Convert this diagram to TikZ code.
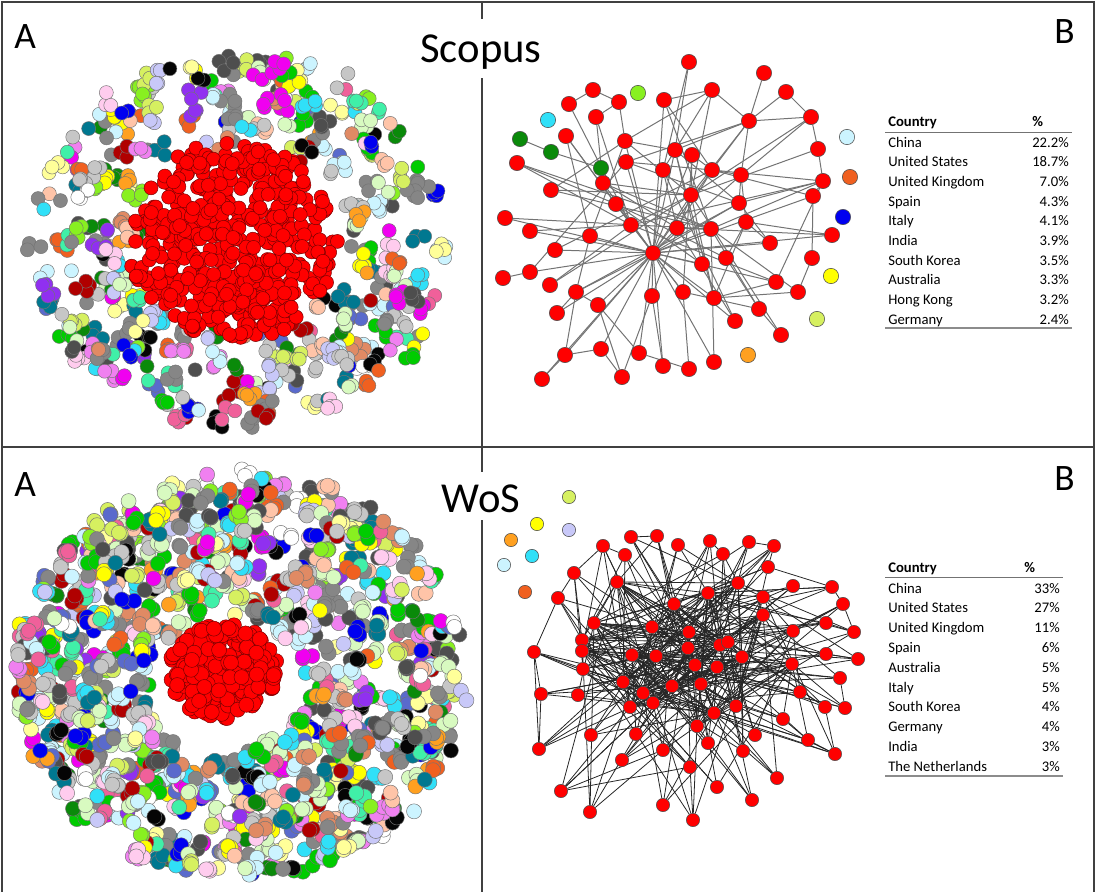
\documentclass[tikz,border=0pt]{standalone}
\usepackage{fontspec}
\setmainfont{Carlito}
\usetikzlibrary{backgrounds}

\definecolor{cGreen}{HTML}{00CC00}
\definecolor{cLime}{HTML}{88F020}
\definecolor{cDkGreen}{HTML}{0A8A0A}
\definecolor{cYellow}{HTML}{FFFF00}
\definecolor{cPaleYel}{HTML}{FFFF99}
\definecolor{cYelGreen}{HTML}{D6F060}
\definecolor{cBlue}{HTML}{0000F0}
\definecolor{cSlate}{HTML}{5A6ACC}
\definecolor{cBlack}{HTML}{050505}
\definecolor{cDkGray}{HTML}{4E4E4E}
\definecolor{cGray}{HTML}{868686}
\definecolor{cLtGray}{HTML}{C6C6C6}
\definecolor{cWhite}{HTML}{FFFFFF}
\definecolor{cPink}{HTML}{F0609A}
\definecolor{cMagenta}{HTML}{F000F0}
\definecolor{cOrchid}{HTML}{F080F0}
\definecolor{cPurple}{HTML}{9030F0}
\definecolor{cCyan}{HTML}{30E0F8}
\definecolor{cLtCyan}{HTML}{CCF4FF}
\definecolor{cTeal}{HTML}{007890}
\definecolor{cOrange}{HTML}{FFA020}
\definecolor{cOrRed}{HTML}{F06020}
\definecolor{cPeach}{HTML}{FFC4A8}
\definecolor{cSalmon}{HTML}{E08A64}
\definecolor{cMint}{HTML}{40F0A8}
\definecolor{cPaleGreen}{HTML}{D8FAC0}
\definecolor{cLavender}{HTML}{C8C8F8}
\definecolor{cDkRed}{HTML}{B00000}
\definecolor{cRose}{HTML}{FFCCEE}

\tikzset{
  frame/.style={draw=black!75, line width=1.3pt},
  lbl/.style={font=\fontsize{28}{32}\selectfont, inner sep=0pt},
  ttl/.style={font=\fontsize{32}{38}\selectfont, fill=white, inner xsep=2pt, inner ysep=3pt},
  blob/.style={draw=black!55, line width=0.35pt},
  redblob/.style={draw=red!45!black, fill=red, line width=0.35pt},
  snode/.style={circle, draw=black!70, line width=0.4pt, minimum size=11.5pt, inner sep=0pt},
  wnode/.style={circle, draw=black!70, line width=0.4pt, minimum size=10pt, inner sep=0pt},
  sedge/.style={draw=black!55, line width=0.75pt},
  wedge/.style={draw=black!85, line width=0.6pt},
  cell/.style={font=\fontsize{11}{13}\selectfont, inner sep=0pt},
  head/.style={font=\fontsize{11}{13}\selectfont\bfseries, inner sep=0pt},
  rulethin/.style={draw=black!55, line width=0.6pt},
  rulethick/.style={draw=black!45, line width=1.3pt},
}

\pgfmathdeclarerandomlist{dotcol}{{cGreen}{cLime}{cDkGreen}{cYellow}{cPaleYel}{cYelGreen}{cBlue}{cSlate}{cBlack}{cDkGray}{cDkGray}{cGray}{cGray}{cGray}{cLtGray}{cLtGray}{cWhite}{cPink}{cMagenta}{cOrchid}{cPurple}{cCyan}{cLtCyan}{cLtCyan}{cTeal}{cOrange}{cOrRed}{cPeach}{cSalmon}{cMint}{cPaleGreen}{cPaleGreen}{cLavender}{cDkRed}{cRose}}
\pgfmathdeclarerandomlist{wosHub}{{12}{13}{14}{15}{19}{21}{22}{23}{24}{25}{28}{29}{30}{31}{33}{34}{35}{36}{39}{40}{41}{42}{44}{45}{46}{47}{51}{52}{53}{54}{58}}

\begin{document}
\begin{tikzpicture}[x=0.75pt, y=-0.75pt]
\useasboundingbox (0,0) rectangle (1096,892);
\pgfmathsetseed{2718}

% panel frame
\draw[frame] (2,892) -- (2,2) -- (1094,2) -- (1094,892);
\draw[frame] (2,447) -- (1094,447);
\draw[frame] (482,2) -- (482,892);

% Scopus, A: communities round the main one
\foreach \g in {1,...,330}{
  \pgfmathsetmacro{\ang}{360*rnd}
  \pgfmathsetmacro{\rr}{sqrt(0.25+0.75*rnd)}
  \pgfmathsetmacro{\cx}{241+210*\rr*cos(\ang)}
  \pgfmathsetmacro{\cy}{238+186*\rr*sin(\ang)}
  \pgfmathrandomitem{\dc}{dotcol}
  \pgfmathtruncatemacro{\nm}{1+3.99*rnd}
  \foreach \k in {1,...,\nm}
    \draw[blob, fill=\dc] ({\cx+8*rand},{\cy+8*rand}) circle[radius=7];
}
\foreach \k in {1,...,520}{
  \pgfmathsetmacro{\ang}{360*rnd}
  \pgfmathsetmacro{\rr}{sqrt(rnd)*(0.9+0.1*rnd)}
  \draw[redblob] ({233+106*\rr*cos(\ang)},{243+104*\rr*sin(\ang)}) circle[radius=7];
}

% WoS, A: ring of communities
\foreach \g in {1,...,1000}{
  \pgfmathsetmacro{\ang}{360*rnd}
  \pgfmathsetmacro{\tv}{sqrt(0.137+0.863*rnd)}
  \pgfmathsetmacro{\sv}{(\tv-0.37)/0.63}
  \pgfmathsetmacro{\cx}{(1-\sv)*(228+76*cos(\ang))+\sv*(241+225*cos(\ang))}
  \pgfmathsetmacro{\cy}{(1-\sv)*(682+72*sin(\ang))+\sv*(675+204*sin(\ang))}
  \pgfmathrandomitem{\dc}{dotcol}
  \pgfmathtruncatemacro{\nm}{1+2.99*rnd}
  \foreach \k in {1,...,\nm}
    \draw[blob, fill=\dc] ({\cx+5*rand},{\cy+5*rand}) circle[radius=7.5];
}
\foreach \k in {1,...,220}{
  \pgfmathsetmacro{\ang}{360*rnd}
  \pgfmathsetmacro{\rr}{sqrt(rnd)}
  \draw[redblob] ({223+55*\rr*cos(\ang)},{672+48*\rr*sin(\ang)}) circle[radius=7.5];
}

% labels
\node[lbl, anchor=base west] (aTop) at (14,49) {A};
\node[lbl, anchor=base east] (bTop) at (1075,44) {B};
\node[ttl, anchor=base, text height=30pt, text depth=8pt] (scopus) at (481,63) {Scopus};
\node[lbl, anchor=base west] (aBot) at (14,496) {A};
\node[lbl, anchor=base east] (bBot) at (1075,490) {B};
\node[ttl, anchor=base, text height=27pt, text depth=3pt] (wos) at (481,512) {WoS};

% Scopus, B: country network
\foreach \n/\x/\y/\col in {
  1/689/62/red, 2/764/73/red, 3/786/92/red, 4/712/90/red, 5/664/100/red,
  6/593/90/red, 7/619/102/red, 8/569/104/red, 9/596/117/red, 10/638/93/cLime,
  11/548/120/cCyan, 12/749/121/red, 13/811/117/red, 14/847/137/cLtCyan, 15/520/139/cDkGreen,
  16/551/152/cDkGreen, 17/566/136/red, 18/625/141/red, 19/675/150/red, 20/692/155/red,
  21/818/149/red, 22/517/163/red, 23/601/168/cDkGreen, 24/626/162/red, 25/663/170/red,
  26/712/170/red, 27/741/175/red, 28/823/181/red, 29/850/177/cOrRed, 30/551/190/red,
  31/603/183/red, 32/691/195/red, 33/739/203/red, 34/813/196/red, 35/616/204/red,
  36/843/217/cBlue, 37/505/218/red, 38/530/231/red, 39/631/225/red, 40/677/228/red,
  41/711/229/red, 42/746/222/red, 43/832/235/red, 44/590/236/red, 45/770/243/red,
  46/555/250/red, 47/653/253/red, 48/726/258/red, 49/702/264/red, 50/812/258/red,
  51/503/278/red, 52/530/272/red, 53/550/285/red, 54/576/292/red, 55/831/276/cYellow,
  56/776/282/red, 57/798/292/red, 58/598/305/red, 59/652/296/red, 60/683/292/red,
  61/714/298/red, 62/557/313/red, 63/759/309/red, 64/735/321/red, 65/817/319/cYelGreen,
  66/781/335/red, 67/565/355/red, 68/601/349/red, 69/639/353/red, 70/663/366/red,
  71/689/369/red, 72/714/362/red, 73/748/355/cOrange, 74/542/379/red, 75/622/377/red}
  \node[snode, fill=\col] (s\n) at (\x,\y) {};

\begin{scope}[on background layer]
\foreach \a/\b in {
  1/19, 1/25, 2/12, 3/12, 4/5, 4/12, 4/25, 4/32, 4/18, 6/7, 6/8, 7/9, 7/18, 9/31, 9/39,
  12/13, 12/19, 12/26, 12/27, 12/32, 12/24, 13/21, 13/27, 13/32, 21/28, 28/34, 28/26,
  28/33, 28/39, 15/16, 16/23, 17/35, 17/39, 17/44, 22/35, 22/39, 30/18, 30/41, 37/47,
  37/41, 38/39, 38/47, 44/47, 44/18, 44/54, 46/47, 46/26, 51/52, 52/47, 52/24, 53/39,
  54/47, 54/58, 54/67, 58/47, 58/75, 58/69, 59/47, 59/70, 59/75, 60/47, 60/71, 60/63,
  61/47, 61/56, 61/42, 62/54, 67/74, 67/47, 67/68, 68/47, 68/75, 69/47, 69/71, 70/47,
  72/47, 72/41, 63/66, 63/41, 64/47, 64/40, 45/42, 48/42, 48/63, 43/42, 43/47, 50/57,
  50/34, 57/61, 57/41, 56/28, 56/47, 20/32, 20/26, 20/47, 20/60, 19/47, 19/33, 19/61,
  25/47, 25/40, 25/64, 26/27, 26/47, 26/40, 27/47, 27/33, 27/42, 31/47, 31/32, 31/41,
  31/40, 32/47, 32/59, 32/61, 32/66, 33/47, 33/54, 33/45, 35/47, 35/48, 35/60, 39/47,
  39/32, 39/56, 40/47, 41/47, 24/47, 24/33, 18/47, 18/32, 5/47, 5/26, 5/41, 34/47,
  34/26, 49/47, 49/35, 49/19, 8/39, 30/32, 22/41, 53/32, 62/47, 74/47, 21/32, 43/40,
  45/47, 28/41, 3/13, 18/19, 24/26}
  \draw[sedge] (s\a) -- (s\b);
\end{scope}

% WoS, B: country network
\foreach \n/\x/\y/\col in {
  1/631/537/red, 2/657/536/red, 3/603/546/red, 4/678/545/red, 5/710/541/red,
  6/749/542/red, 7/774/546/red, 8/625/555/red, 9/723/554/red, 10/768/567/red,
  11/574/573/red, 12/617/582/red, 13/738/583/red, 14/708/593/red, 15/763/597/red,
  16/793/586/red, 17/832/587/red, 18/558/598/red, 19/674/604/red, 20/843/604/red,
  21/763/615/red, 22/594/623/red, 23/652/627/red, 24/689/632/red, 25/793/631/red,
  26/826/623/red, 27/854/632/red, 28/582/640/red, 29/720/645/red, 30/728/642/red,
  31/688/648/red, 32/534/652/red, 33/582/651/red, 34/632/655/red, 35/656/656/red,
  36/742/657/red, 37/826/654/red, 38/858/659/red, 39/695/665/red, 40/717/667/red,
  41/792/664/red, 42/583/669/red, 43/840/678/red, 44/623/682/red, 45/672/686/red,
  46/701/684/red, 47/643/693/red, 48/541/694/red, 49/578/695/red, 50/800/692/red,
  51/630/707/red, 52/653/703/red, 53/736/706/red, 54/714/713/red, 55/825/707/red,
  56/845/708/red, 57/783/719/red, 58/697/726/red, 59/591/735/red, 60/636/734/red,
  61/755/735/red, 62/808/740/red, 63/708/743/red, 64/539/749/red, 65/663/750/red,
  66/743/751/red, 67/835/754/red, 68/622/760/red, 69/690/767/red, 70/777/778/red,
  71/561/791/red, 72/717/787/red, 73/663/805/red, 74/752/800/red, 75/590/812/red,
  76/693/820/red,
  77/569/497/cYelGreen, 78/537/524/cYellow, 79/569/530/cLavender, 80/511/540/cOrange,
  81/532/556/cCyan, 82/504/565/cLtCyan, 83/525/592/cOrRed}
  \node[wnode, fill=\col] (w\n) at (\x,\y) {};

\begin{scope}[on background layer]
\foreach \i in {1,...,76}{
  \foreach \k in {1,2,3,4}{
    \pgfmathrandomitem{\hb}{wosHub}
    \ifnum\i=\hb\relax\else\draw[wedge] (w\i) -- (w\hb);\fi
  }
}
\foreach \i in {12,13,14,19,22,23,24,29,30,31,34,35,36,39,40,45,46,47,52,54}{
  \foreach \k in {1,2,3}{
    \pgfmathrandomitem{\hb}{wosHub}
    \ifnum\i=\hb\relax\else\draw[wedge] (w\i) -- (w\hb);\fi
  }
}
\foreach \a/\b in {64/48, 64/32, 71/65, 75/65, 71/69, 1/2, 3/8, 5/9, 6/7, 7/10, 10/17,
  17/20, 20/27, 26/27, 37/38, 43/56, 55/67, 62/67, 57/62, 32/18, 11/18, 3/11, 48/32, 76/69}
  \draw[wedge] (w\a) -- (w\b);
\end{scope}

% Scopus, B: table
\node[head, anchor=base west] (sHeadC) at (888,127) {Country};
\node[head, anchor=base west] (sHeadP) at (1032,127) {\%};
\draw[rulethin] (885,132) -- (1072,132);
\foreach \name/\pct [count=\r] in {China/22.2\%, United States/18.7\%, United Kingdom/7.0\%,
  Spain/4.3\%, Italy/4.1\%, India/3.9\%, South Korea/3.5\%, Australia/3.3\%,
  Hong Kong/3.2\%, Germany/2.4\%}{
  \node[cell, anchor=base west] (sc\r) at (888,{147+19.7*(\r-1)}) {\name};
  \node[cell, anchor=base east] (sp\r) at (1069,{147+19.7*(\r-1)}) {\pct};
}
\draw[rulethick] (885,328) -- (1072,328);

% WoS, B: table
\node[head, anchor=base west] (wHeadC) at (888,572) {Country};
\node[head, anchor=base west] (wHeadP) at (1024,572) {\%};
\draw[rulethin] (885,577) -- (1063,577);
\foreach \name/\pct [count=\r] in {China/33\%, United States/27\%, United Kingdom/11\%,
  Spain/6\%, Australia/5\%, Italy/5\%, South Korea/4\%, Germany/4\%, India/3\%,
  The Netherlands/3\%}{
  \node[cell, anchor=base west] (wc\r) at (888,{593+19.8*(\r-1)}) {\name};
  \node[cell, anchor=base east] (wp\r) at (1060,{593+19.8*(\r-1)}) {\pct};
}
\draw[rulethick] (885,776) -- (1063,776);
\end{tikzpicture}
\end{document}
